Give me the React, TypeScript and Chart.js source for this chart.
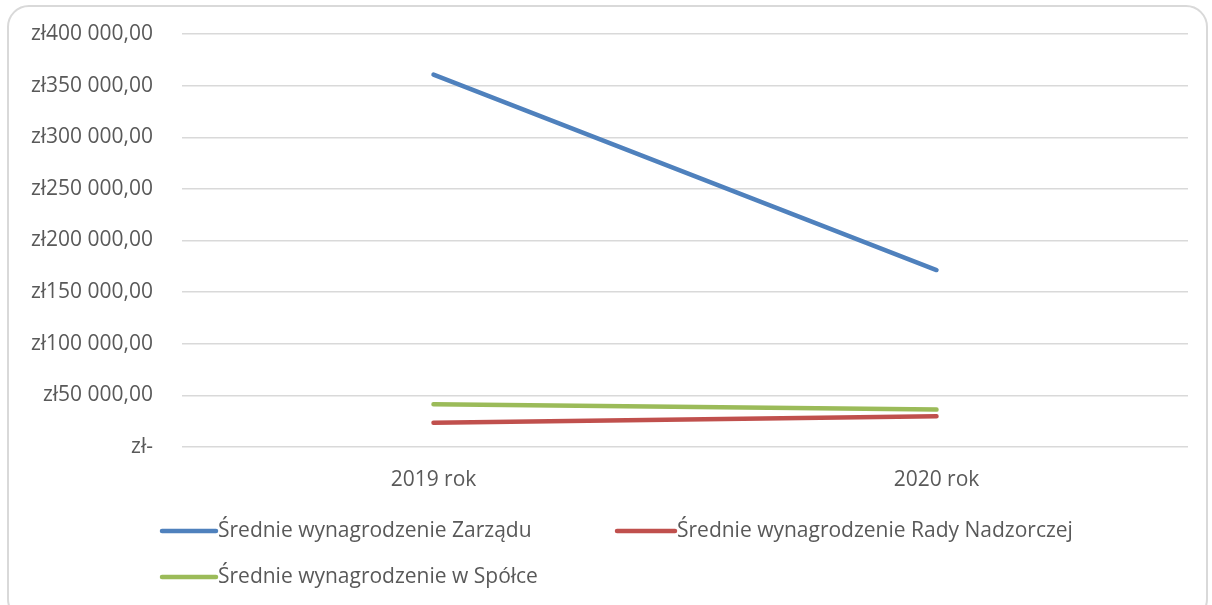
import React, { useEffect, useRef } from "react";
import { Chart, registerables } from "chart.js";

Chart.register(...registerables);

const categories = ["2019 rok", "2020 rok"];
const seriesNames = [
  "Średnie wynagrodzenie Zarządu",
  "Średnie wynagrodzenie Rady Nadzorczej",
  "Średnie wynagrodzenie w Spółce",
];
const zarzad = [360600, 171400];
const radaNadzorcza = [23600, 29700];
const spolka = [41300, 36200];
const seriesColors = ["#4f81bd", "#c0504d", "#9bbb59"];
const yMin = 0;
const yMax = 400000;
const yStep = 50000;

const FONT = "'Open Sans', 'Liberation Sans', sans-serif";
const TEXT_COLOR = "#595959";
const GRID_COLOR = "#d9d9d9";

function formatPln(v: number): string {
  if (v === 0) return "zł-";
  const s = Math.round(v).toString().replace(/\B(?=(\d{3})+(?!\d))/g, " ");
  return "zł" + s + ",00";
}

const legendPlugin = {
  id: "customLegend",
  afterDraw(chart: any) {
    const ctx = chart.ctx;
    const slots = [
      { x: 160, y: 531, len: 56 },
      { x: 615, y: 531, len: 60 },
      { x: 160, y: 577, len: 56 },
    ];
    ctx.save();
    chart.data.datasets.forEach((ds: any, i: number) => {
      const s = slots[i];
      if (!s) return;
      ctx.strokeStyle = ds.borderColor;
      ctx.lineWidth = 4.5;
      ctx.lineCap = "round";
      ctx.beginPath();
      ctx.moveTo(s.x + 2, s.y);
      ctx.lineTo(s.x + s.len, s.y);
      ctx.stroke();
      ctx.fillStyle = TEXT_COLOR;
      ctx.font = `21px ${FONT}`;
      ctx.textBaseline = "middle";
      ctx.textAlign = "left";
      ctx.fillText(ds.label, s.x + s.len + 2, s.y);
    });
    ctx.restore();
  },
};

export default function App() {
  const canvasRef = useRef<HTMLCanvasElement | null>(null);

  useEffect(() => {
    if (!canvasRef.current) return;
    const values = [zarzad, radaNadzorcza, spolka];
    const chart = new Chart(canvasRef.current, {
      type: "line",
      data: {
        labels: categories,
        datasets: seriesNames.map((name, i) => ({
          label: name,
          data: values[i],
          borderColor: seriesColors[i],
          backgroundColor: seriesColors[i],
          borderWidth: 4.5,
          borderCapStyle: "round" as const,
          pointRadius: 0,
          pointHoverRadius: 0,
          tension: 0,
          fill: false,
        })),
      },
      options: {
        responsive: false,
        animation: false,
        devicePixelRatio: 1,
        layout: { padding: { left: 0, top: 34, right: 24, bottom: 98 } },
        plugins: {
          legend: { display: false },
          tooltip: { enabled: false },
        },
        scales: {
          x: {
            offset: true,
            grid: { display: false, drawTicks: false },
            border: { display: false },
            ticks: {
              color: TEXT_COLOR,
              font: { family: FONT, size: 21 },
              padding: 20,
            },
            afterFit(scale: any) {
              scale.height = 60;
            },
          },
          y: {
            min: yMin,
            max: yMax,
            grid: { color: GRID_COLOR, lineWidth: 1.5, drawTicks: false },
            border: { display: false },
            ticks: {
              stepSize: yStep,
              color: TEXT_COLOR,
              font: { family: FONT, size: 21 },
              padding: 29,
              callback: (v: any) => formatPln(Number(v)),
            },
            afterFit(scale: any) {
              scale.width = 182;
              scale.paddingTop = 10;
              scale.paddingBottom = 10;
            },
          },
        },
      },
      plugins: [legendPlugin],
    });
    return () => chart.destroy();
  }, []);

  return (
    <div
      style={{
        position: "fixed",
        left: 0,
        top: 0,
        width: 1212,
        height: 605,
        overflow: "hidden",
        background: "#ffffff",
      }}
    >
      <div
        style={{
          position: "absolute",
          left: 7,
          top: 5,
          width: 1201,
          height: 616,
          border: "2px solid #d9d9d9",
          borderRadius: 22,
          boxSizing: "border-box",
        }}
      />
      <canvas
        ref={canvasRef}
        width={1212}
        height={605}
        style={{ position: "absolute", left: 0, top: 0, width: 1212, height: 605 }}
      />
    </div>
  );
}
